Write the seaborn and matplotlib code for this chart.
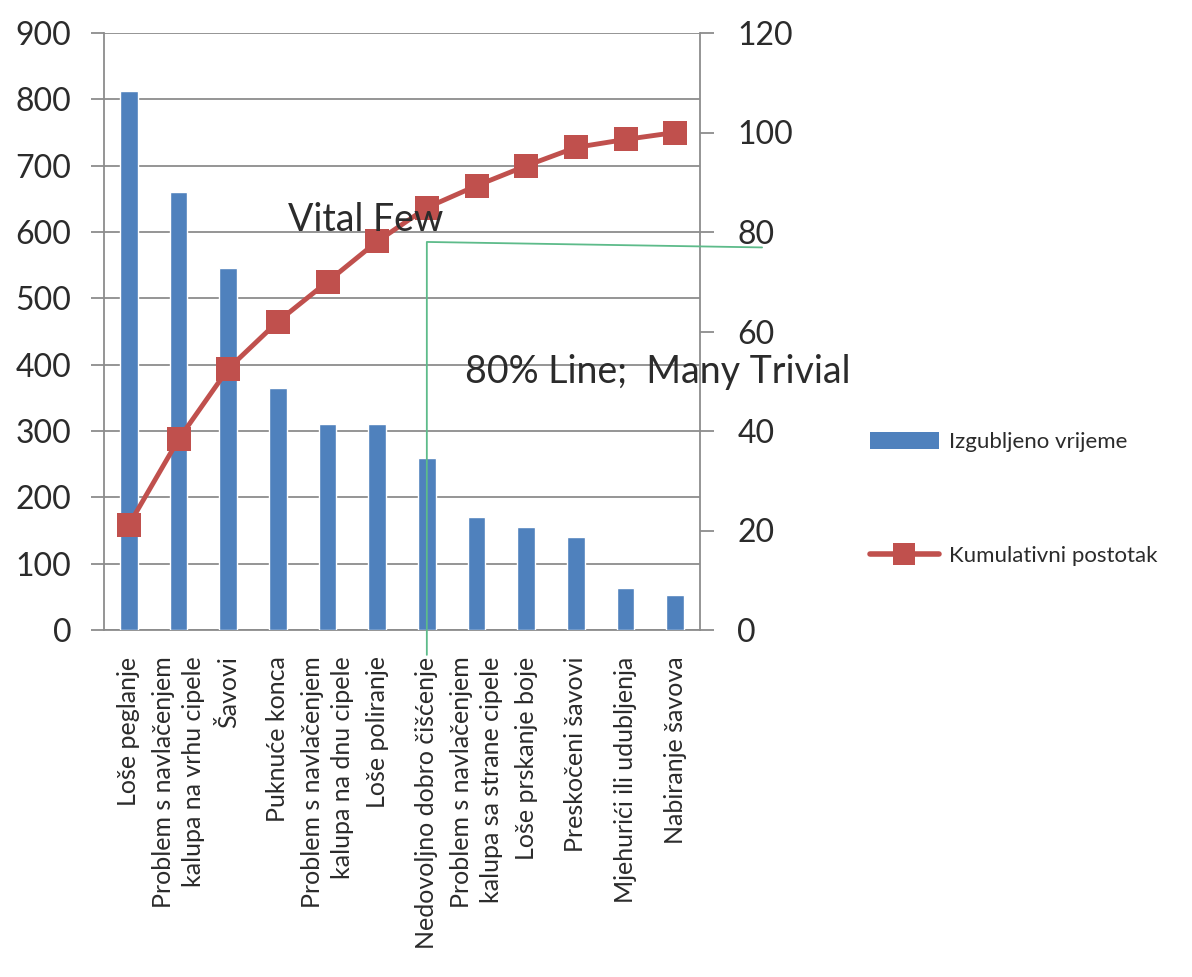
import numpy as np
import matplotlib
matplotlib.use("Agg")
import matplotlib.pyplot as plt
import seaborn as sns
from matplotlib.lines import Line2D
from matplotlib.patches import Patch

# --- data ---
categories = [
    "Loše peglanje",
    "Problem s navlačenjem\nkalupa na vrhu cipele",
    "Šavovi",
    "Puknuće konca",
    "Problem s navlačenjem\nkalupa na dnu cipele",
    "Loše poliranje",
    "Nedovoljno dobro čišćenje",
    "Problem s navlačenjem\nkalupa sa strane cipele",
    "Loše prskanje boje",
    "Preskočeni šavovi",
    "Mjehurići ili udubljenja",
    "Nabiranje šavova",
]
lost_time = [812, 660, 546, 365, 311, 311, 260, 170, 155, 140, 63, 53]
cum_pct = [21.1, 38.3, 52.5, 62.0, 70.0, 78.1, 84.9, 89.3, 93.3, 97.0, 98.6, 100.0]
left_ticks = list(range(0, 901, 100))
right_ticks = list(range(0, 121, 20))

BLUE = "#4F81BD"
RED = "#C0504D"
GRID = "#8c8c8c"
GREEN = "#5dbb8a"
TXT = "#2b2b2b"

sns.set_style("white")
plt.rcParams["font.family"] = ["Lato", "DejaVu Sans"]

fig = plt.figure(figsize=(11.92, 9.77), dpi=100)
ax = fig.add_axes([104 / 1192, 1 - 630 / 977, 596 / 1192, 597 / 977])

pos = np.arange(len(categories))
sns.barplot(x=pos, y=lost_time, color=BLUE, width=0.36, saturation=1,
            native_scale=True, ax=ax, zorder=3)
ax.set_xlim(-0.5, len(categories) - 0.5)
ax.set_ylim(0, 900)
ax.set_yticks(left_ticks)
ax.yaxis.grid(True, color=GRID, linewidth=1.3, zorder=0)
ax.set_axisbelow(True)

# category labels, rotated, ends lined up under the axis
ax.set_xticks(pos)
ax.set_xticklabels(categories, rotation=90, fontsize=18, ha="center",
                   va="top", multialignment="right", color=TXT,
                   linespacing=1.4)
ax.tick_params(axis="x", which="major", length=0, pad=19)
ax.set_xticks(np.arange(-0.5, len(categories), 1), minor=True)
ax.tick_params(axis="x", which="minor", length=9, color=GRID, width=1.3)
ax.tick_params(axis="y", length=9.5, color=GRID, width=1.3, labelsize=23,
               labelcolor=TXT, pad=14)
ax.set_xlabel("")
ax.set_ylabel("")
for s in ["left", "bottom", "right"]:
    ax.spines[s].set_color(GRID)
    ax.spines[s].set_linewidth(1.3)
ax.spines["top"].set_visible(False)

ax2 = ax.twinx()
sns.lineplot(x=pos, y=cum_pct, color=RED, linewidth=3.5, marker="s",
             markersize=17, markeredgewidth=0, ax=ax2, zorder=4)
ax2.set_ylim(0, 120)
ax2.set_yticks(right_ticks)
ax2.tick_params(axis="y", length=10, color=GRID, width=1.3, labelsize=23,
                labelcolor=TXT, pad=17)
ax2.set_ylabel("")
for s in ["left", "bottom", "right", "top"]:
    ax2.spines[s].set_visible(False)

# 80% line
ax2.plot([6, 6, 12.75], [-5, 78, 76.9], color=GREEN, linewidth=1.3,
         clip_on=False, zorder=5)

ax2.text(3.2, 82.4, "Vital Few", fontsize=27, color=TXT,
         va="center", ha="left", zorder=6)
ax2.text(6.76, 51.9, "80% Line;  Many Trivial", fontsize=27,
         color=TXT, va="center", ha="left", zorder=6)

handles = [
    Patch(facecolor=BLUE, edgecolor="none"),
    Line2D([], [], color=RED, linewidth=4, marker="s", markersize=16,
           markeredgewidth=0),
]
fig.legend(handles, ["Izgubljeno vrijeme", "Kumulativni postotak"],
           loc="center left", bbox_to_anchor=(0.713, 1 - 499 / 977),
           frameon=False, fontsize=16, labelspacing=4.2, handlelength=3.1,
           handleheight=0.8, handletextpad=0.45, labelcolor=TXT)

fig.savefig("out.png", dpi=100)
